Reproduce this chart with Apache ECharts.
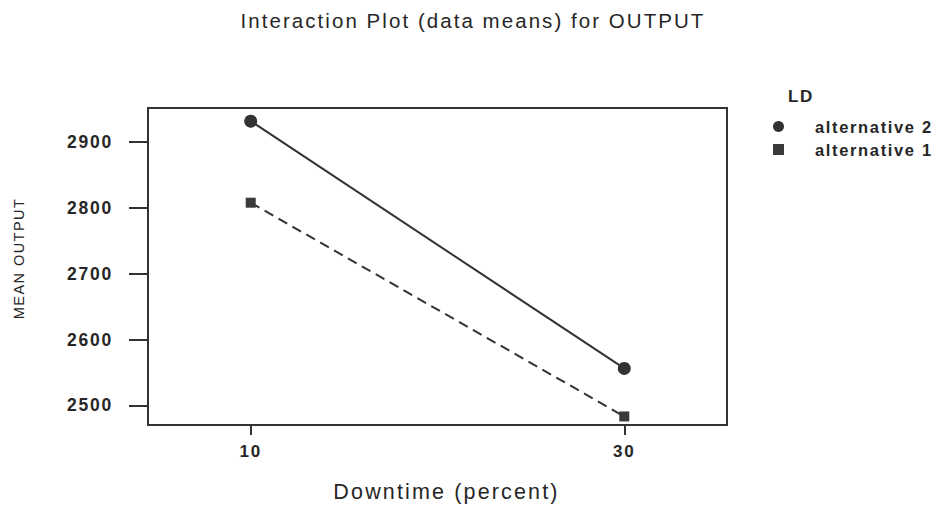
<!DOCTYPE html>
<html>
<head>
<meta charset="utf-8">
<script src="https://cdn.jsdelivr.net/npm/echarts@6/dist/echarts.min.js"></script>
<style>
  html, body { margin: 0; padding: 0; background: #fff; }
  #chart { width: 940px; height: 508px; }
  #chart svg text { letter-spacing: 0.1em; }
</style>
</head>
<body>
<div id="chart"></div>
<script>
const downtime = [10, 30];
const alt2 = [2932, 2556];
const alt1 = [2808, 2483];
const yTicks = [2500, 2600, 2700, 2800, 2900];
const xTicks = [10, 30];
const seriesNames = ['alternative 2', 'alternative 1'];

const FONT = '"Liberation Sans", Arial, sans-serif';
const INK = '#262626';

const chart = echarts.init(document.getElementById('chart'), null, { renderer: 'svg' });
chart.setOption({
  animation: false,
  backgroundColor: '#fff',
  title: [
    { text: 'Interaction Plot (data means) for OUTPUT', left: 468, top: 5, textAlign: 'center',
      textStyle: { fontFamily: FONT, fontSize: 20.5, fontWeight: 'normal', color: INK } },
    { text: 'LD', left: 783, top: 83,
      textStyle: { fontFamily: FONT, fontSize: 17, fontWeight: 'bold', color: INK } }
  ],
  legend: {
    orient: 'vertical', left: 768, top: 113,
    itemWidth: 11, itemHeight: 11, itemGap: 6,
    data: [{ name: seriesNames[0], icon: 'circle' }, { name: seriesNames[1], icon: 'rect' }],
    textStyle: { fontFamily: FONT, fontSize: 16.5, fontWeight: 'bold', color: INK, padding: [0, 0, 0, 26] }
  },
  grid: { left: 148, right: 213, top: 108, bottom: 83, show: true, borderColor: '#333', borderWidth: 2 },
  xAxis: {
    type: 'value', min: 4.5, max: 35.5,
    name: 'Downtime (percent)', nameLocation: 'middle', nameGap: 56,
    nameTextStyle: { fontFamily: FONT, fontSize: 21.5, color: INK, padding: [0, 0, 0, 18] },
    axisLine: { show: true, lineStyle: { color: '#333', width: 2 } },
    axisTick: { show: true, length: 10, customValues: xTicks, lineStyle: { color: '#333', width: 2 } },
    axisLabel: { customValues: xTicks, margin: 18, fontFamily: FONT, fontSize: 17, fontWeight: 'bold', color: INK },
    splitLine: { show: false }
  },
  yAxis: {
    type: 'value', min: 2470, max: 2952,
    name: 'MEAN OUTPUT', nameLocation: 'middle', nameGap: 122, nameRotate: 90,
    nameTextStyle: { fontFamily: FONT, fontSize: 14.5, color: INK, padding: [0, 0, 0, 16] },
    axisLine: { show: true, lineStyle: { color: '#333', width: 2 } },
    axisTick: { show: true, length: 19, customValues: yTicks, lineStyle: { color: '#333', width: 2 } },
    axisLabel: { customValues: yTicks, margin: 35, fontFamily: FONT, fontSize: 17.5, fontWeight: 'bold', color: INK,
      formatter: v => String(v) },
    splitLine: { show: false }
  },
  series: [
    { name: seriesNames[0], type: 'line', data: downtime.map((d, i) => [d, alt2[i]]),
      symbol: 'circle', symbolSize: 13,
      itemStyle: { color: '#333' }, lineStyle: { color: '#333', width: 2, type: 'solid' } },
    { name: seriesNames[1], type: 'line', data: downtime.map((d, i) => [d, alt1[i]]),
      symbol: 'rect', symbolSize: 10,
      itemStyle: { color: '#3a3a3a' }, lineStyle: { color: '#333', width: 2, type: [10, 6] } }
  ]
});
</script>
</body>
</html>
